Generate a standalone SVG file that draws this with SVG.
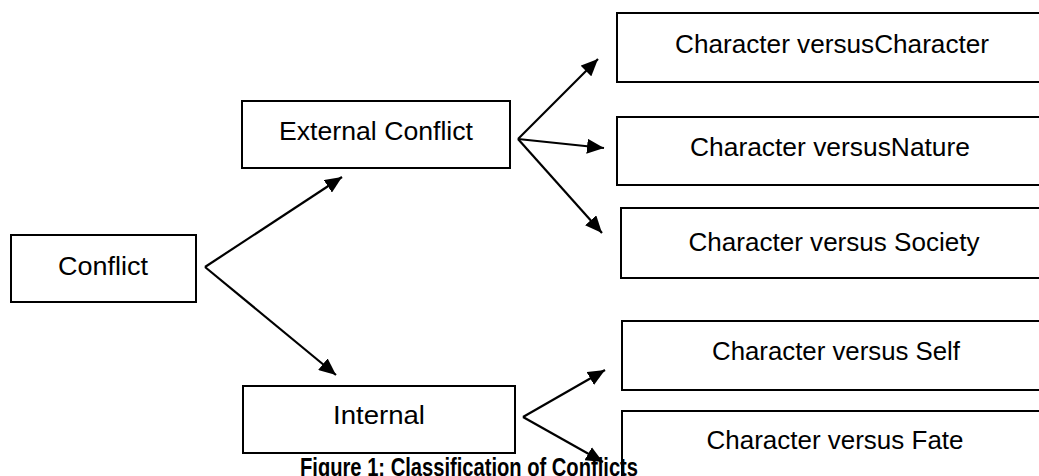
<svg xmlns="http://www.w3.org/2000/svg" width="1039" height="476" viewBox="0 0 1039 476">
<style>
.box{fill:#fff;stroke:#000;stroke-width:2}
.lbl{font-family:"Liberation Sans",Arial,sans-serif;font-size:26px;fill:#000;text-anchor:middle}
.cap{font-family:"Liberation Sans",Arial,sans-serif;font-size:25px;font-weight:bold;fill:#000}
.conn line{stroke:#000;stroke-width:2.2}
</style>
<defs>
<marker id="ah" markerUnits="userSpaceOnUse" markerWidth="17" markerHeight="15" refX="17" refY="7.5" orient="auto">
<path d="M0,0 L17,7.5 L0,15 z" fill="#000"/>
</marker>
</defs>
<rect width="1039" height="476" fill="#fff"/>
<g id="conflict"><rect class="box" x="11" y="235" width="185" height="67"/><text class="lbl" x="103" y="275" textLength="90" lengthAdjust="spacingAndGlyphs">Conflict</text></g>
<g id="external"><rect class="box" x="242" y="101" width="268" height="67"/><text class="lbl" x="376" y="140" textLength="194" lengthAdjust="spacingAndGlyphs">External Conflict</text></g>
<g id="internal"><rect class="box" x="243" y="386" width="272" height="67"/><text class="lbl" x="379" y="424" textLength="92" lengthAdjust="spacingAndGlyphs">Internal</text></g>
<g id="vs-character"><rect class="box" x="617" y="13" width="440" height="69"/><text class="lbl" x="832" y="53" textLength="314" lengthAdjust="spacingAndGlyphs">Character versusCharacter</text></g>
<g id="vs-nature"><rect class="box" x="617" y="117" width="440" height="68"/><text class="lbl" x="830" y="156" textLength="280" lengthAdjust="spacingAndGlyphs">Character versusNature</text></g>
<g id="vs-society"><rect class="box" x="621" y="208" width="440" height="70"/><text class="lbl" x="834" y="251" textLength="291" lengthAdjust="spacingAndGlyphs">Character versus Society</text></g>
<g id="vs-self"><rect class="box" x="622" y="321" width="440" height="69"/><text class="lbl" x="836" y="360" textLength="248" lengthAdjust="spacingAndGlyphs">Character versus Self</text></g>
<g id="vs-fate"><rect class="box" x="622" y="411" width="440" height="90"/><text class="lbl" x="835" y="449" textLength="257" lengthAdjust="spacingAndGlyphs">Character versus Fate</text></g>
<g id="connectors" class="conn">
<line x1="205" y1="267" x2="342" y2="177" marker-end="url(#ah)"/>
<line x1="205" y1="267" x2="336" y2="375" marker-end="url(#ah)"/>
<line x1="518" y1="139" x2="598" y2="59" marker-end="url(#ah)"/>
<line x1="518" y1="139" x2="604" y2="148" marker-end="url(#ah)"/>
<line x1="518" y1="139" x2="602" y2="233" marker-end="url(#ah)"/>
<line x1="523" y1="417" x2="605" y2="370" marker-end="url(#ah)"/>
<line x1="523" y1="417" x2="603" y2="462" marker-end="url(#ah)"/>
</g>
<g id="caption"><text class="cap" x="300" y="476" textLength="338" lengthAdjust="spacingAndGlyphs">Figure 1: Classification of Conflicts</text></g>
</svg>
